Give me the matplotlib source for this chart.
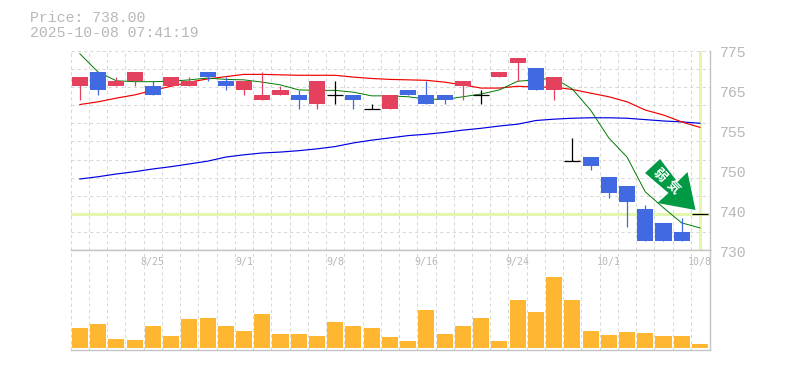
import numpy as np
import matplotlib
matplotlib.use("Agg")
import matplotlib.pyplot as plt
from matplotlib.patches import Polygon

# candles
opens = [766,769,766,767,766,766,766,769,767,765,763,764,764,762,764,764,761,761,
         765,764,764,766,764,768,771,770,765,749.5,750.5,746,744,739,736,734,738]
closes = [768,765,767,769,764,768,767,768,766,767,764,765,763,767,764,763,761,764,
          764,762,763,767,764,769,772,765,768,749.5,748.5,742.5,740.5,732,732,732,738]
highs = [768,769,768,769,767,768,768,769,768,767,769,766,765,767,767,764,762,764,
         765,767,764,767,765,769,772,770,768,754.5,750.5,746,744,740,736,737,738]
lows = [763,764,766,766,764,766,766,767,765,764,763,764,761,761,762,761,761,761,
        764,762,762,763,762,768,767,765,763,749.5,747.5,741.5,735,732,732,732,738]

# moving averages
ma_green = [773.0,769.0,767.1,766.9,766.9,767.0,767.3,767.7,767.4,767.3,766.8,766.2,
            765.1,765.0,765.0,764.6,763.8,763.8,763.6,763.1,763.0,763.6,764.2,765.1,
            767.0,767.3,767.7,765.3,760.7,754.6,750.4,742.8,739.3,736.0,734.9]
ma_red = [761.9,762.5,763.3,764.0,765.0,765.9,766.8,767.5,768.0,768.5,768.5,768.4,
          768.3,768.3,768.3,767.9,767.6,767.4,767.3,767.2,766.8,766.2,765.5,765.5,
          765.9,765.7,765.7,765.2,764.4,763.6,762.5,760.7,759.6,758.1,756.9]
ma_blue = [745.6,746.1,746.7,747.2,747.8,748.3,748.9,749.5,750.4,750.9,751.3,751.5,
           751.8,752.2,752.7,753.5,754.1,754.6,755.1,755.4,755.8,756.3,756.7,757.2,
           757.6,758.4,758.7,758.9,759.0,759.0,758.9,758.6,758.3,758.1,757.8]

# volume
volume = [60,72,27,24,66,36,87,90,66,51,102,42,42,36,78,66,60,33,
          21,114,42,66,90,21,144,108,213,144,51,39,48,45,36,36,12]

date_idx = [4,9,14,19,24,29,34]
date_labels = ["8/25","9/1","9/8","9/16","9/24","10/1","10/8"]
price_label_pos = [773.2,764.4,755.7,746.9,738.2,729.4]
price_labels = ["775","765","755","750","740","730"]
last_price = 738

RED = "#E4415F"
BLUE = "#4169E1"
GREY = "#B8B8B8"
GRIDC = "#D8D8D8"
YEL = "#E4F5AE"
MONO = "Liberation Mono"
W, H = 785, 370
DASH = (0, (3, 3))

fig = plt.figure(figsize=(W/100, H/100), dpi=100)
ax = fig.add_axes([70.7/W, (H-250.3)/H, 639.3/W, 199.6/H])
ax2 = fig.add_axes([70.7/W, (H-350.3)/H, 639.3/W, 100/H])

n = len(opens)
xs = np.arange(n)
for a in (ax, ax2):
    a.set_xlim(-0.502, 34.55)
    a.set_xticks(xs - 0.5)
    a.tick_params(length=0, labelbottom=False, labelleft=False)
    a.grid(True, axis="x", color=GRIDC, linestyle=DASH, linewidth=0.75)
    a.set_axisbelow(True)
    a.spines["left"].set_visible(False)
    a.spines["top"].set_visible(False)
    a.spines["right"].set_color("#C4C4C4")
    a.spines["bottom"].set_color("#C4C4C4")
    a.spines["right"].set_linewidth(1.0)
    a.spines["bottom"].set_linewidth(1.0)
    a.axvline(-0.5, color=GRIDC, linestyle=DASH, linewidth=0.75, clip_on=False)

ax.set_ylim(730, 773.68)
ax.set_yticks(np.arange(11)*(199.6/11)/4.57 + 730)
ax.grid(True, axis="y", color=GRIDC, linestyle=DASH, linewidth=0.75)
ax.axhline(773.68, color=GRIDC, linestyle=DASH, linewidth=0.75, clip_on=False)

# current price lines
ax.axhline(last_price, color=YEL, linewidth=2.2, zorder=1.5)
ax.axvline(n-1, color=YEL, linewidth=2.2, zorder=1.5)

# moving averages
ax.plot(xs, ma_blue, color="#0000E0", linewidth=0.85, zorder=2)
ax.plot(xs, ma_red, color="#F00000", linewidth=0.85, zorder=2.1)
ax.plot(xs, ma_green, color="#007A00", linewidth=0.7, zorder=2.2)

for i in range(n):
    o, c = opens[i], closes[i]
    if o == c:
        col = "black"
    elif c > o:
        col = RED
    else:
        col = BLUE
    ax.vlines(i, lows[i], highs[i], color=col, linewidth=0.9, zorder=3)
    if o == c:
        ax.hlines(o, i-0.44, i+0.44, color=col, linewidth=0.9, zorder=3)
    else:
        ax.bar(i, abs(c-o), bottom=min(o, c), width=0.88, color=col, linewidth=0, zorder=3)

# arrow badge, placed in pixels
arrow = [(660,159),(645,173),(668.5,193),(657.5,203),(695.5,210),(687.5,172),(677.5,182)]
arrow = [(px/W, 1-py/H) for px, py in arrow]
fig.add_artist(Polygon(arrow, closed=True, transform=fig.transFigure, facecolor="#009944",
                       edgecolor="none", zorder=5))
fig.text(660/W, 1-175/H, "弱", color="white", fontsize=9.5, fontweight="bold", rotation=-45,
         family=["Noto Sans CJK JP"], ha="center", va="center", zorder=6)
fig.text(673.5/W, 1-187/H, "気", color="white", fontsize=9.5, fontweight="bold", rotation=-45,
         family=["Noto Sans CJK JP"], ha="center", va="center", zorder=6)

# volume
ax2.set_ylim(-7, 293)
ax2.set_yticks([])
ax2.spines["top"].set_visible(True)
ax2.spines["top"].set_color("#C4C4C4")
ax2.spines["top"].set_linewidth(1.0)
ax2.bar(xs, volume, width=0.88, color="#FFB732", linewidth=0, zorder=3)
for i, lab in zip(date_idx, date_labels):
    ax2.text(i, 0.88, lab, transform=ax2.get_xaxis_transform(), ha="center", va="center",
             family="DejaVu Sans Mono", fontsize=7.2, color=GREY, clip_on=False, zorder=4)

for p, lab in zip(price_label_pos, price_labels):
    fig.text(720/W, ax.transData.transform((0, p))[1]/H, lab, ha="left", va="center",
             family=MONO, fontsize=10.7, color=GREY)

fig.text(29.5/W, 1-18/H, "Price: 738.00", family=MONO, fontsize=10.7, color=GREY, ha="left", va="center")
fig.text(29.5/W, 1-33/H, "2025-10-08 07:41:19", family=MONO, fontsize=10.7, color=GREY, ha="left", va="center")

fig.savefig("out.png", dpi=100)
